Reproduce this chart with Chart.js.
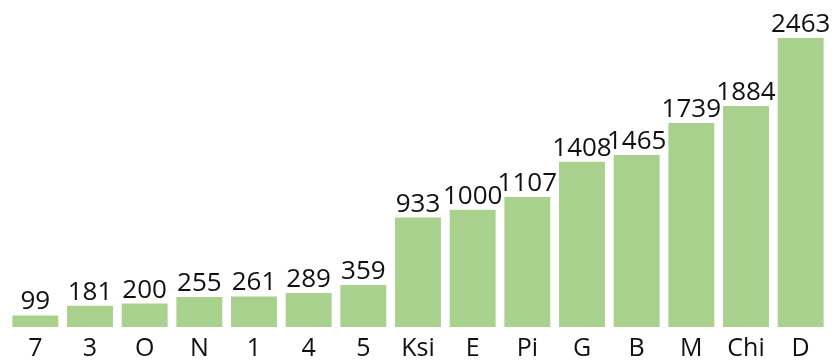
<!DOCTYPE html>
<html>
<head>
<meta charset="utf-8">
<script src="https://cdn.jsdelivr.net/npm/chart.js@4/dist/chart.umd.min.js"></script>
<style>
  html, body { margin: 0; padding: 0; background: #fff; }
  #wrap { width: 835px; height: 363px; }
</style>
</head>
<body>
<div id="wrap"><canvas id="chart"></canvas></div>
<script>
const categories = ["7", "3", "O", "N", "1", "4", "5", "Ksi", "E", "Pi", "G", "B", "M", "Chi", "D"];
const counts = [99, 181, 200, 255, 261, 289, 359, 933, 1000, 1107, 1408, 1465, 1739, 1884, 2463];

const barColor = "#a9d18e";
const textColor = "#111";
const fontFamily = "'Open Sans', sans-serif";

// writes each bar's value just above it
const valueLabels = {
  id: "valueLabels",
  afterDatasetsDraw(chart) {
    const ctx = chart.ctx;
    const meta = chart.getDatasetMeta(0);
    ctx.save();
    ctx.font = "26px " + fontFamily;
    ctx.fillStyle = textColor;
    ctx.textAlign = "center";
    ctx.textBaseline = "alphabetic";
    meta.data.forEach(function (bar, i) {
      ctx.fillText(String(counts[i]), bar.x, bar.y - 6);
    });
    ctx.restore();
  },
};

new Chart(document.getElementById("chart"), {
  type: "bar",
  data: {
    labels: categories,
    datasets: [
      {
        data: counts,
        backgroundColor: barColor,
        borderWidth: 0,
        categoryPercentage: 0.84,
        barPercentage: 1,
      },
    ],
  },
  options: {
    responsive: true,
    maintainAspectRatio: false,
    animation: false,
    layout: { padding: { top: 38, left: 8, right: 7, bottom: 0 } },
    plugins: {
      legend: { display: false },
      tooltip: { enabled: false },
    },
    scales: {
      x: {
        grid: { display: false },
        border: { display: false },
        ticks: {
          color: textColor,
          font: { family: fontFamily, size: 25, lineHeight: 0.88 },
          padding: 3,
          maxRotation: 0,
          autoSkip: false,
        },
      },
      y: {
        display: false,
        min: 0,
        max: Math.max(...counts),
      },
    },
  },
  plugins: [valueLabels],
});
</script>
</body>
</html>
